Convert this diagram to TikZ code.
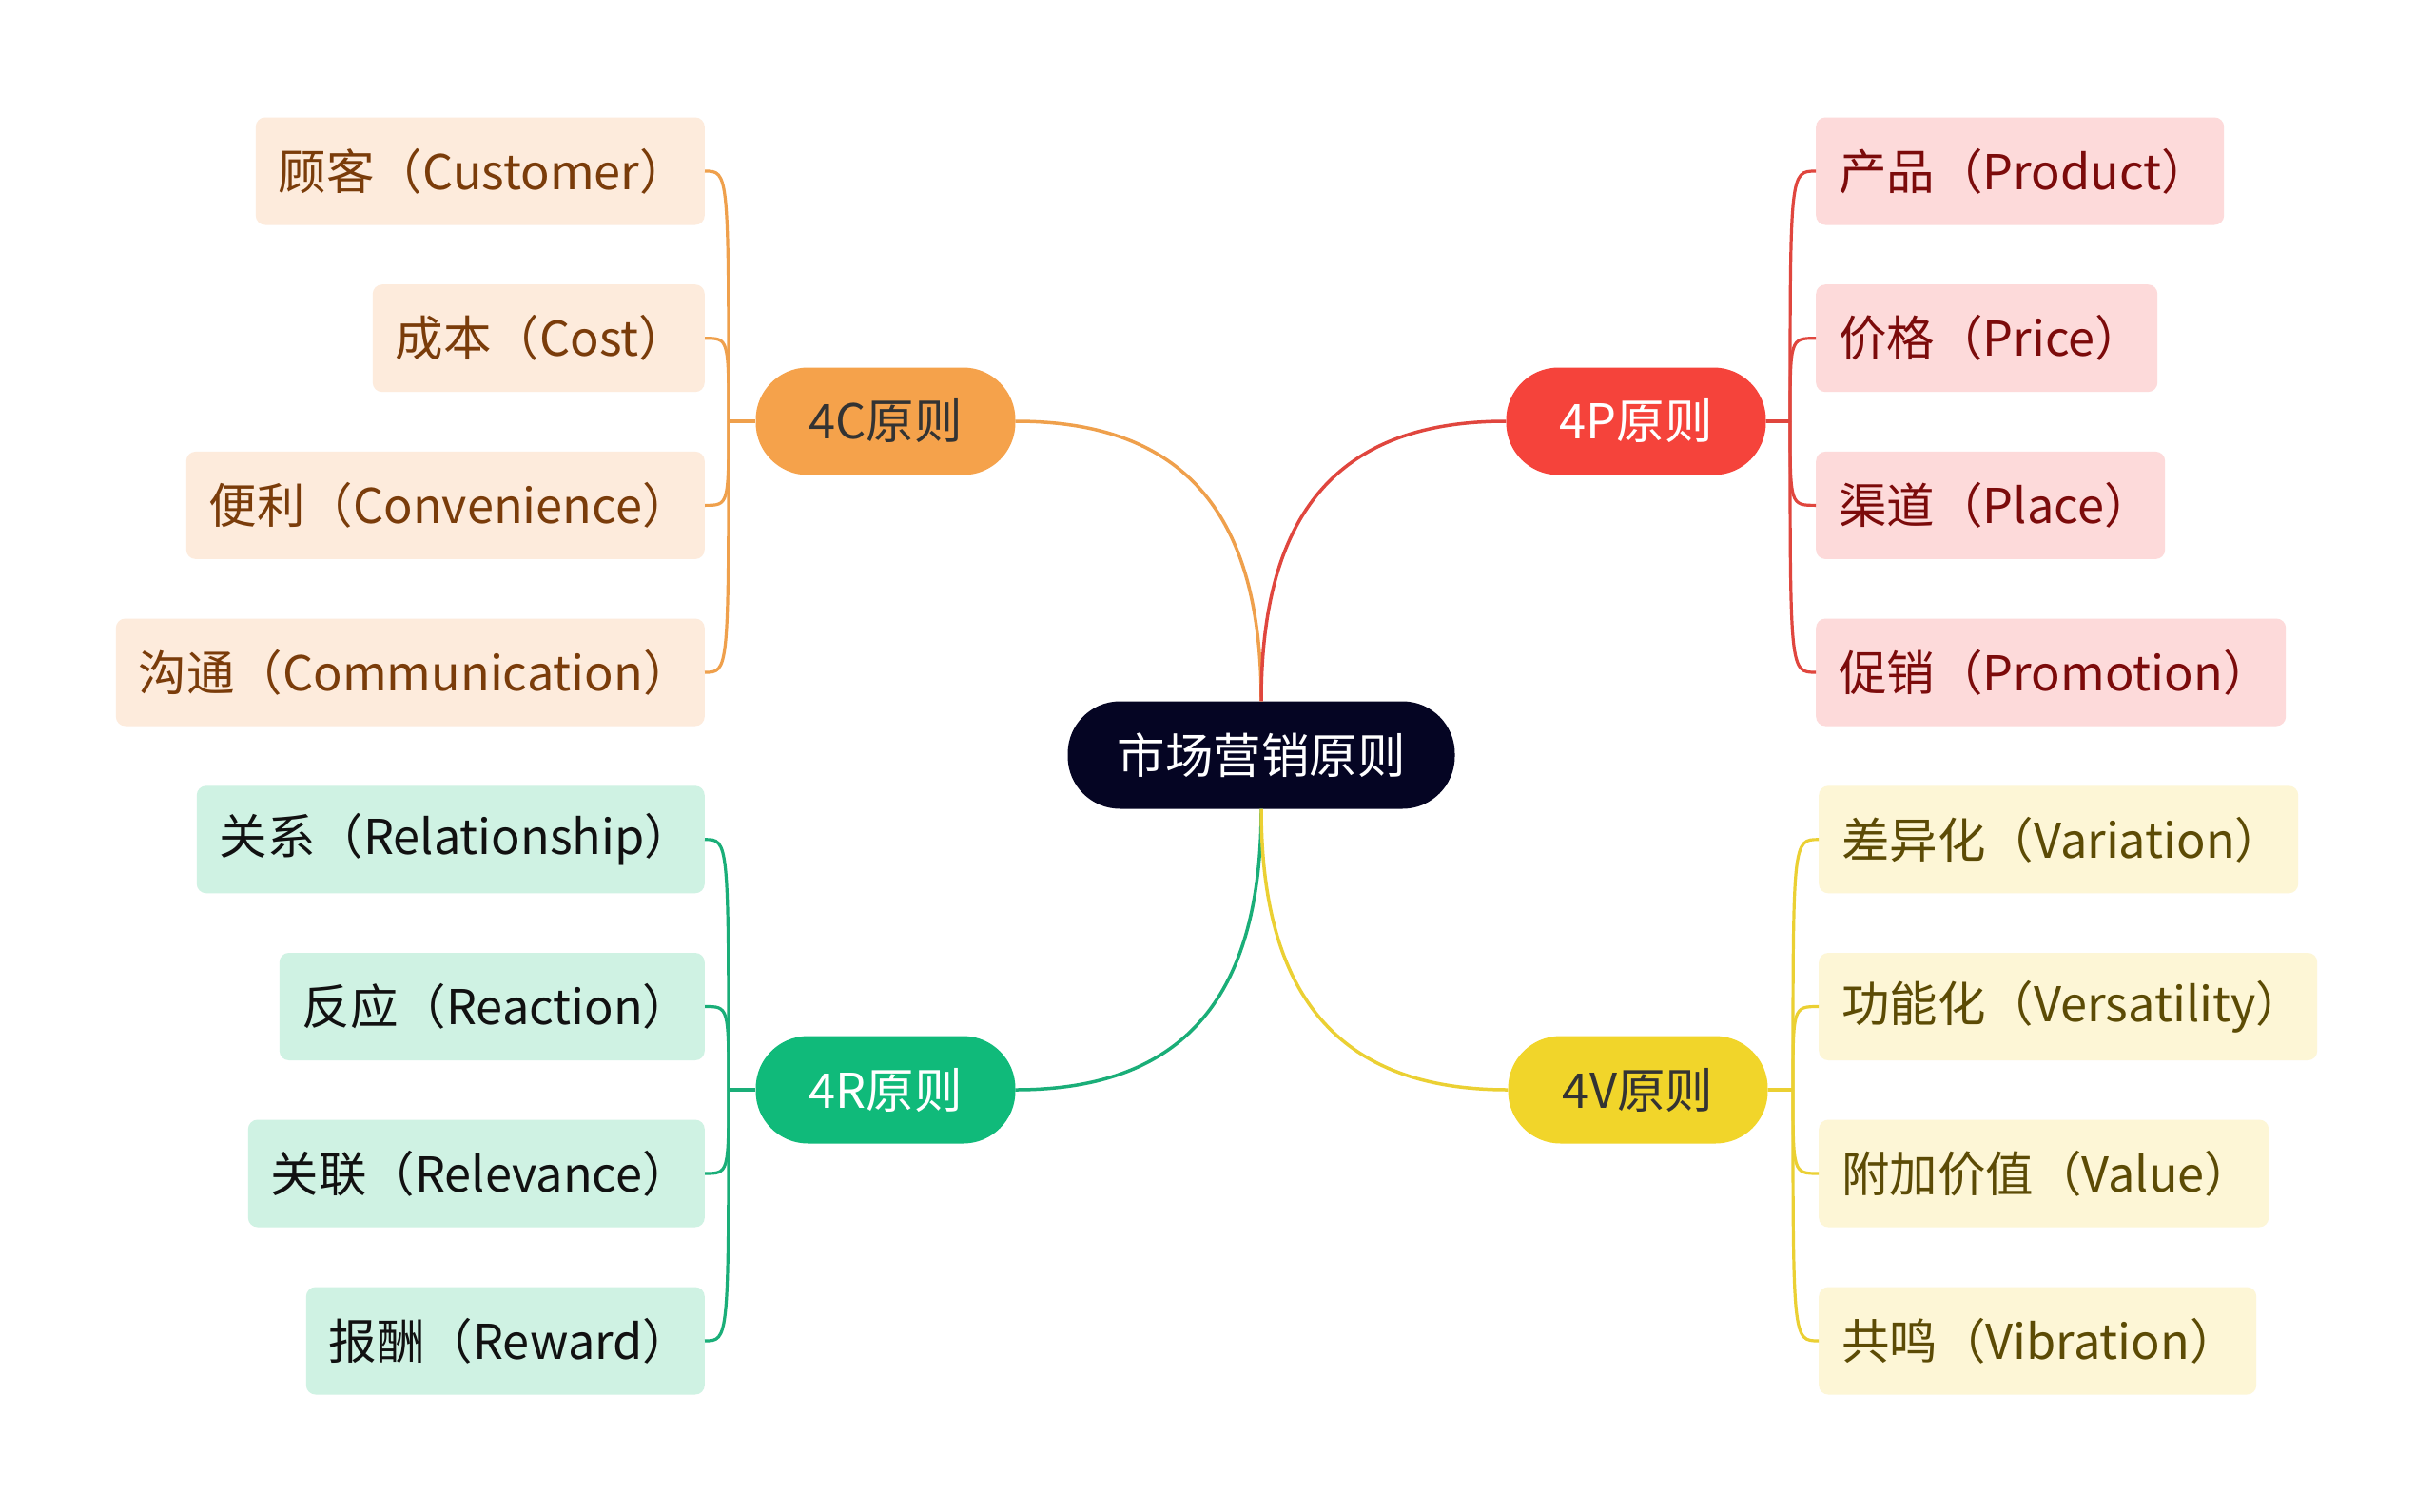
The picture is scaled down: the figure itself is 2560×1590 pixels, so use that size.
\documentclass[tikz,border=0pt]{standalone}
\usepackage{fontspec}
\setmainfont{Noto Sans CJK SC}
\definecolor{rootc}{HTML}{050523}
\definecolor{cC}{HTML}{F5A24B}\definecolor{cCline}{HTML}{EFA04C}\definecolor{cCleaf}{HTML}{FDEBDC}\definecolor{cCtext}{HTML}{7A3C0A}
\definecolor{cP}{HTML}{F5433B}\definecolor{cPline}{HTML}{E0463E}\definecolor{cPleaf}{HTML}{FDDADA}\definecolor{cPtext}{HTML}{7C0B0B}
\definecolor{cR}{HTML}{10BA7A}\definecolor{cRline}{HTML}{1AAE78}\definecolor{cRleaf}{HTML}{CFF2E3}\definecolor{cRtext}{HTML}{111111}
\definecolor{cV}{HTML}{F1D52A}\definecolor{cVline}{HTML}{EBD033}\definecolor{cVleaf}{HTML}{FDF6D6}\definecolor{cVtext}{HTML}{5C4B05}
\definecolor{darktext}{HTML}{333333}
\newcommand{\fsz}{\fontsize{50.5}{58}\selectfont}
\tikzset{
  rootbox/.style={fill=rootc, rounded corners=55pt, minimum width=407pt, minimum height=113pt, inner sep=0pt, text=white, font=\fsz},
  branchbox/.style={rounded corners=55pt, minimum width=273pt, minimum height=113pt, inner sep=0pt, font=\fsz},
  leafbox/.style={rounded corners=10pt, minimum height=113pt, inner ysep=0pt, inner xsep=24pt, align=left, font=\fsz},
  mainline/.style={line width=3.5pt},
  subline/.style={line width=3.2pt},
}
\begin{document}
\begin{tikzpicture}[x=1pt,y=-1pt]
\useasboundingbox (0,0) rectangle (2560,1590);
\fill[white] (0,0) rectangle (2560,1590);

% central and branches
\node[rootbox] (root) at (1326,794) {市场营销原则};
\node[branchbox, fill=cC, text=darktext] (b4c) at (931,443) {4C原则};
\node[branchbox, fill=cP, text=white] (b4p) at (1720,443) {4P原则};
\node[branchbox, fill=cR, text=white] (b4r) at (931,1146) {4R原则};
\node[branchbox, fill=cV, text=darktext] (b4v) at (1722,1146) {4V原则};

% left leaves (4C)
\node[leafbox, fill=cCleaf, text=cCtext, text width=424pt, anchor=east] (c1) at (741,180) {\mbox{顾客（Customer）}};
\node[leafbox, fill=cCleaf, text=cCtext, text width=301pt, anchor=east] (c2) at (741,355.7) {\mbox{成本（Cost）}};
\node[leafbox, fill=cCleaf, text=cCtext, text width=497pt, anchor=east] (c3) at (741,531.4) {\mbox{便利（Convenience）}};
\node[leafbox, fill=cCleaf, text=cCtext, text width=571pt, anchor=east] (c4) at (741,707) {\mbox{沟通（Communication）}};
% left leaves (4R)
\node[leafbox, fill=cRleaf, text=cRtext, text width=486pt, anchor=east] (r1) at (741,882.8) {\mbox{关系（Relationship）}};
\node[leafbox, fill=cRleaf, text=cRtext, text width=399pt, anchor=east] (r2) at (741,1058.5) {\mbox{反应（Reaction）}};
\node[leafbox, fill=cRleaf, text=cRtext, text width=432pt, anchor=east] (r3) at (741,1234) {\mbox{关联（Relevance）}};
\node[leafbox, fill=cRleaf, text=cRtext, text width=371pt, anchor=east] (r4) at (741,1410) {\mbox{报酬（Reward）}};
% right leaves (4P)
\node[leafbox, fill=cPleaf, text=cPtext, text width=381pt, anchor=west] (p1) at (1909,180) {\mbox{产品（Product）}};
\node[leafbox, fill=cPleaf, text=cPtext, text width=311pt, anchor=west] (p2) at (1909,355.7) {\mbox{价格（Price）}};
\node[leafbox, fill=cPleaf, text=cPtext, text width=319pt, anchor=west] (p3) at (1909,531.4) {\mbox{渠道（Place）}};
\node[leafbox, fill=cPleaf, text=cPtext, text width=446pt, anchor=west] (p4) at (1909,707) {\mbox{促销（Promotion）}};
% right leaves (4V)
\node[leafbox, fill=cVleaf, text=cVtext, text width=456pt, anchor=west] (v1) at (1912,882.8) {\mbox{差异化（Variation）}};
\node[leafbox, fill=cVleaf, text=cVtext, text width=476pt, anchor=west] (v2) at (1912,1058.5) {\mbox{功能化（Versatility）}};
\node[leafbox, fill=cVleaf, text=cVtext, text width=425pt, anchor=west] (v3) at (1912,1234) {\mbox{附加价值（Value）}};
\node[leafbox, fill=cVleaf, text=cVtext, text width=412pt, anchor=west] (v4) at (1912,1410) {\mbox{共鸣（Vibration）}};

% central curves
\draw[mainline, cCline] (root.north) .. controls +(0,-200) and +(175,0) .. (b4c.east);
\draw[mainline, cPline] (root.north) .. controls +(0,-200) and +(-175,0) .. (b4p.west);
\draw[mainline, cRline] (root.south) .. controls +(0,200) and +(175,0) .. (b4r.east);
\draw[mainline, cVline] (root.south) .. controls +(0,200) and +(-175,0) .. (b4v.west);

% trunks
\coordinate (tC) at (766,443);
\coordinate (tP) at (1882,443);
\coordinate (tR) at (766,1146);
\coordinate (tV) at (1885,1146);
\draw[subline, cCline] (b4c.west) -- (tC);
\draw[subline, cPline] (b4p.east) -- (tP);
\draw[subline, cRline] (b4r.west) -- (tR);
\draw[subline, cVline] (b4v.east) -- (tV);

\foreach \l in {c1,c2,c3,c4}{\draw[subline, cCline] (tC) .. controls (tC |- \l.east) and (tC |- \l.east) .. (\l.east);}
\foreach \l in {r1,r2,r3,r4}{\draw[subline, cRline] (tR) .. controls (tR |- \l.east) and (tR |- \l.east) .. (\l.east);}
\foreach \l in {p1,p2,p3,p4}{\draw[subline, cPline] (tP) .. controls (tP |- \l.west) and (tP |- \l.west) .. (\l.west);}
\foreach \l in {v1,v2,v3,v4}{\draw[subline, cVline] (tV) .. controls (tV |- \l.west) and (tV |- \l.west) .. (\l.west);}
\end{tikzpicture}
\end{document}
